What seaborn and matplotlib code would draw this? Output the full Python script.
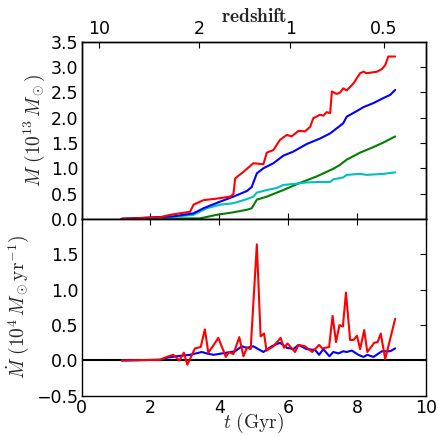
import numpy as np
import pandas as pd
import matplotlib
matplotlib.use("Agg")
import matplotlib.pyplot as plt
import seaborn as sns

# ---------------- data ----------------
t_red = [1.16, 2.28, 2.57, 3.15, 3.25, 3.54, 3.92, 4.31, 4.41, 4.46, 4.70, 4.99, 5.28, 5.38,
         5.57, 5.76, 5.96, 6.10, 6.30, 6.49, 6.64, 6.73, 6.93, 7.02, 7.12, 7.22, 7.27, 7.41,
         7.51, 7.60, 7.70, 7.90, 8.09, 8.19, 8.28, 8.58, 8.72, 8.82, 8.91, 9.11]
m_red = [0.00, 0.03, 0.08, 0.14, 0.28, 0.37, 0.40, 0.44, 0.49, 0.80, 0.93, 1.10, 1.08, 1.31,
         1.36, 1.56, 1.66, 1.63, 1.74, 1.73, 1.82, 1.99, 2.06, 2.04, 2.11, 2.09, 2.52, 2.47,
         2.50, 2.58, 2.54, 2.68, 2.88, 2.91, 2.88, 2.91, 2.96, 3.04, 3.21, 3.21]

t_blue = [1.16, 2.67, 3.25, 3.54, 4.02, 4.41, 4.80, 4.94, 5.09, 5.28, 5.57, 5.86, 6.15, 6.54,
          6.93, 7.22, 7.41, 7.60, 7.70, 7.99, 8.19, 8.48, 8.77, 8.96, 9.11]
m_blue = [0.00, 0.05, 0.11, 0.21, 0.34, 0.44, 0.55, 0.63, 0.90, 1.00, 1.10, 1.25, 1.33, 1.48,
          1.59, 1.69, 1.79, 1.89, 2.02, 2.13, 2.21, 2.29, 2.39, 2.45, 2.55]

t_cyan = [1.16, 2.67, 3.25, 3.63, 4.02, 4.41, 4.80, 4.99, 5.09, 5.38, 5.67, 5.86, 6.15, 6.54,
          6.93, 7.22, 7.31, 7.60, 7.70, 8.09, 8.28, 8.77, 9.11]
m_cyan = [0.00, 0.04, 0.08, 0.21, 0.28, 0.31, 0.39, 0.44, 0.52, 0.57, 0.61, 0.67, 0.69, 0.72,
          0.73, 0.73, 0.78, 0.82, 0.87, 0.89, 0.87, 0.89, 0.92]

t_green = [1.16, 3.44, 3.92, 4.41, 4.80, 4.94, 5.09, 5.38, 5.86, 6.30, 6.83, 7.31, 7.51, 7.70,
           8.09, 8.48, 8.77, 9.11]
m_green = [0.00, 0.01, 0.08, 0.13, 0.18, 0.21, 0.38, 0.44, 0.57, 0.70, 0.84, 0.99, 1.07, 1.17,
           1.31, 1.42, 1.51, 1.63]

t_mdot_red = [1.16, 2.28, 2.47, 2.66, 2.84, 2.97, 3.07, 3.29, 3.46, 3.58, 3.68, 3.81, 3.97,
              4.19, 4.28, 4.41, 4.58, 4.70, 4.80, 4.91, 5.09, 5.20, 5.30, 5.37, 5.57, 5.78,
              5.88, 5.98, 6.20, 6.30, 6.49, 6.70, 6.90, 6.99, 7.19, 7.29, 7.39, 7.49, 7.59,
              7.68, 7.80, 7.90, 8.00, 8.09, 8.21, 8.30, 8.50, 8.60, 8.69, 8.82, 9.11]
mdot_red = [0.00, 0.01, 0.05, 0.08, 0.00, 0.11, -0.06, 0.17, 0.19, 0.44, 0.11, 0.20, 0.32,
            0.05, 0.12, 0.09, 0.33, 0.06, 0.18, 0.16, 1.64, 0.34, 0.38, 0.14, 0.20, 0.32,
            0.18, 0.24, 0.12, 0.22, 0.20, 0.12, 0.22, 0.17, 0.19, 0.63, 0.26, 0.50, 0.48,
            0.96, 0.29, 0.29, 0.35, 0.16, 0.43, 0.12, 0.25, 0.26, 0.38, 0.02, 0.59]

t_mdot_blue = [1.16, 2.28, 2.49, 2.76, 3.15, 3.49, 3.63, 3.83, 4.21, 4.46, 4.65, 4.80, 4.99,
               5.28, 5.52, 5.76, 5.96, 6.15, 6.30, 6.54, 6.78, 6.90, 7.02, 7.20, 7.31, 7.46,
               7.60, 7.70, 7.85, 8.04, 8.19, 8.30, 8.48, 8.72, 8.96, 9.11]
mdot_blue = [0.00, 0.01, 0.04, 0.06, 0.08, 0.12, 0.10, 0.08, 0.11, 0.13, 0.20, 0.18, 0.20,
             0.12, 0.20, 0.25, 0.18, 0.16, 0.22, 0.16, 0.15, 0.08, 0.16, 0.06, 0.12, 0.10,
             0.13, 0.12, 0.14, 0.08, 0.05, 0.08, 0.05, 0.13, 0.13, 0.17]

z_ticks = [10, 2, 1, 0.5]
z_labels = ["10", "2", "1", "0.5"]
top_yticks = [0.0, 0.5, 1.0, 1.5, 2.0, 2.5, 3.0, 3.5]
bot_yticks = [-0.5, 0.0, 0.5, 1.0, 1.5]
x_ticks = [0, 2, 4, 6, 8, 10]


def age_gyr(z, h=0.72, om=0.25):
    ol = 1.0 - om
    hubble_time = 977.8 / (100.0 * h)
    z = np.asarray(z, dtype=float)
    return 2.0 / (3.0 * np.sqrt(ol)) * hubble_time * np.arcsinh(np.sqrt(ol / om) * (1 + z) ** -1.5)


# ---------------- style ----------------
sns.set_style("white")
plt.rcParams.update({
    "font.family": ["DejaVu Sans"],
    "mathtext.fontset": "cm",
    "font.size": 12.5,
    "xtick.direction": "in",
    "ytick.direction": "in",
    "xtick.major.size": 4,
    "ytick.major.size": 4,
    "xtick.major.width": 0.8,
    "ytick.major.width": 0.8,
    "xtick.color": "black",
    "ytick.color": "black",
    "axes.edgecolor": "black",
    "axes.linewidth": 1.0,
})

LABEL_FS = 14
TICK_FS = 12.5

fig = plt.figure(figsize=(4.39, 4.36), dpi=100)
L, R = 0.186, 0.970
ax1 = fig.add_axes([L, 0.498, R - L, 0.904 - 0.498])
ax2 = fig.add_axes([L, 0.092, R - L, 0.498 - 0.092])

lw = 1.5
df_top = pd.concat([
    pd.DataFrame({"t": t_red, "m": m_red, "s": "red"}),
    pd.DataFrame({"t": t_blue, "m": m_blue, "s": "blue"}),
    pd.DataFrame({"t": t_cyan, "m": m_cyan, "s": "cyan"}),
    pd.DataFrame({"t": t_green, "m": m_green, "s": "green"}),
])
pal_top = {"red": "#ff0000", "blue": "#0000ff", "cyan": "#00bfbf", "green": "#008000"}
for name in ["green", "cyan", "blue", "red"]:
    sub = df_top[df_top.s == name]
    sns.lineplot(data=sub, x="t", y="m", color=pal_top[name], lw=lw, ax=ax1,
                 estimator=None, sort=False, legend=False)

ax2.axhline(0, color="black", lw=1.5, zorder=1)
sns.lineplot(x=t_mdot_blue, y=mdot_blue, color="#0000ff", lw=lw, ax=ax2,
             estimator=None, sort=False, legend=False)
sns.lineplot(x=t_mdot_red, y=mdot_red, color="#ff0000", lw=lw, ax=ax2,
             estimator=None, sort=False, legend=False)

for ax in (ax1, ax2):
    ax.set_xlim(0, 10)
    ax.tick_params(axis="both", which="both", top=True, right=True, pad=2.5, labelsize=TICK_FS)
    for sp in ax.spines.values():
        sp.set_visible(True)
        sp.set_color("black")

ax1.set_ylim(0, 3.5)
ax1.set_yticks(top_yticks)
ax1.set_yticklabels([f"{v:.1f}" for v in top_yticks])
ax1.set_xticks(x_ticks)
ax1.tick_params(axis="x", labelbottom=False)
ax1.set_xlabel("")
ax1.set_ylabel(r"$M\ (10^{13}\,M_\odot)$", fontsize=LABEL_FS, labelpad=3)

ax2.set_ylim(-0.5, 2.0)
ax2.set_yticks(bot_yticks)
ax2.set_yticklabels([f"{v:.1f}".replace("-", "\u2212") for v in bot_yticks])
ax2.set_xticks(x_ticks)
ax2.set_xticklabels([str(v) for v in x_ticks])
ax2.set_xlabel(r"$t\ (\mathrm{Gyr})$", fontsize=LABEL_FS, labelpad=-4.5)
ax2.set_ylabel(r"$\dot{M}\ (10^4\,M_\odot\mathrm{yr}^{-1})$", fontsize=LABEL_FS, labelpad=4)

# redshift axis on top
axz = ax1.twiny()
axz.set_xlim(ax1.get_xlim())
axz.set_xticks(age_gyr(z_ticks))
axz.set_xticklabels(z_labels)
axz.tick_params(axis="x", direction="in", length=4, pad=2.5, labelsize=TICK_FS)
axz.set_xlabel(r"$\mathbf{redshift}$", fontsize=LABEL_FS, labelpad=-1)
ax1.tick_params(axis="x", top=False)

fig.savefig("out.png", dpi=100, facecolor="white")
